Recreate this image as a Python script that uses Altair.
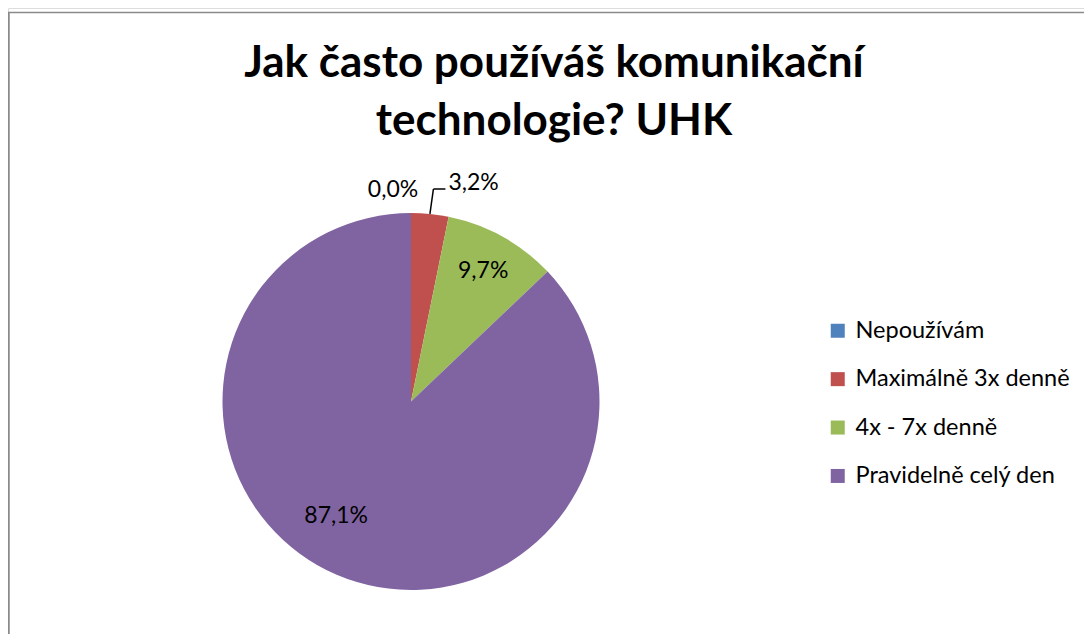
import altair as alt
import pandas as pd

TITLE_LINES = ["Jak často používáš komunikační", "technologie? UHK"]
CATEGORIES = ["Nepoužívám", "Maximálně 3x denně", "4x - 7x denně", "Pravidelně celý den"]
VALUES = [0.0, 3.2, 9.7, 87.1]
COLORS = ["#4F81BD", "#C0504D", "#9BBB59", "#8064A2"]

W, H = 1076, 626
CX, CY, R = 403, 393.5, 188.5
FONT = "Lato"

df = pd.DataFrame({"category": CATEGORIES, "value": VALUES, "idx": list(range(len(CATEGORIES)))})

base = (
    alt.Chart(df)
    .transform_stack(stack="value", groupby=[], as_=["v0", "v1"], sort=[alt.SortField("idx", order="ascending")])
    .transform_calculate(
        mid="(datum.v0 + datum.v1) / 2",
        label="replace(format(datum.value, '.1f'), '.', ',') + '%'",
    )
)

theta_scale = alt.Scale(domain=[0, 100])

arcs = base.mark_arc(outerRadius=R, strokeWidth=0).encode(
    x=alt.value(CX),
    y=alt.value(CY),
    theta=alt.Theta("v0:Q", scale=theta_scale),
    theta2="v1:Q",
    color=alt.Color(
        "category:N",
        scale=alt.Scale(domain=CATEGORIES, range=COLORS),
        sort=CATEGORIES,
        legend=alt.Legend(
            title=None,
            orient="none",
            legendX=818,
            legendY=311,
            symbolType="square",
            symbolSize=196,
            symbolStrokeWidth=0,
            labelFont=FONT,
            labelFontSize=23.5,
            labelColor="#000000",
            labelOffset=6,
            labelLimit=500,
            rowPadding=23.4,
            padding=0,
        ),
    ),
)


def label_layer(cat, radius, dx, dy):
    return (
        base.transform_filter(alt.datum.category == cat)
        .mark_text(radius=radius, dx=dx, dy=dy, font=FONT, fontSize=23, color="#000000",
                   align="center", baseline="middle")
        .encode(
            x=alt.value(CX),
            y=alt.value(CY),
            theta=alt.Theta("mid:Q", scale=theta_scale),
            text="label:N",
        )
    )


labels = [
    label_layer(CATEGORIES[0], 211.5, -18, 0),
    label_layer(CATEGORIES[1], 215, 41, -5),
    label_layer(CATEGORIES[2], 149, 0, 0),
    label_layer(CATEGORIES[3], 136.6, -21, -11),
]

# leader line for the small slice
leader = base.transform_filter(alt.datum.category == CATEGORIES[1]).transform_calculate(
    ang="datum.mid / 100 * 2 * PI",
    ax=f"{CX} + sin(datum.ang) * {R}",
    ay=f"{CY} - cos(datum.ang) * {R}",
    bx=f"{CX} + sin(datum.ang) * {R} + 3.5",
    by=f"{CY} - 212.5",
    cx2=f"{CX} + sin(datum.ang) * {R} + 15.5",
)
lead1 = leader.mark_rule(color="#000000", strokeWidth=1.5).encode(
    x=alt.X("ax:Q", scale=None), y=alt.Y("ay:Q", scale=None),
    x2="bx:Q", y2="by:Q",
)
lead2 = leader.mark_rule(color="#000000", strokeWidth=1.5).encode(
    x=alt.X("bx:Q", scale=None), y=alt.Y("by:Q", scale=None),
    x2="cx2:Q", y2="by:Q",
)

title = alt.Chart(df).mark_text(
    font=FONT, fontSize=44, fontWeight="bold", color="#000000",
    align="center", baseline="alphabetic", lineHeight=58,
).encode(x=alt.value(546), y=alt.value(69), text=alt.value(TITLE_LINES)).transform_filter(alt.datum.idx == 0)

frame_left = alt.Chart(df).transform_filter(alt.datum.idx == 0).mark_rule(color="#8a8a8a", strokeWidth=2.5).encode(
    x=alt.value(0.5), y=alt.value(4), y2=alt.value(H)
)
frame_top = alt.Chart(df).transform_filter(alt.datum.idx == 0).mark_rule(color="#8a8a8a", strokeWidth=1.5).encode(
    x=alt.value(0), x2=alt.value(W), y=alt.value(4.5)
)

chart = alt.layer(frame_left, frame_top, title, arcs, *labels, lead1, lead2).properties(
    width=W, height=H,
    autosize=alt.AutoSizeParams(type="none"),
    padding=0,
).configure_view(stroke=None).configure(background="#ffffff")

chart.save("out.html", embed_options={"renderer": "svg", "actions": False})
